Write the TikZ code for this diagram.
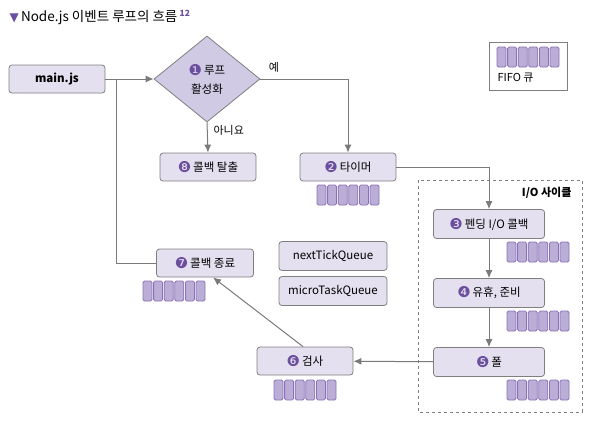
\documentclass[tikz,border=0pt]{standalone}
\usepackage{fontspec}
\setmainfont{Noto Sans CJK KR}
\newfontfamily\dingfont{DejaVu Sans}
\usetikzlibrary{shapes.geometric,arrows.meta}
\definecolor{boxfill}{HTML}{E4E0EF}
\definecolor{boxline}{HTML}{7F7F7F}
\definecolor{diafill}{HTML}{D0CAE4}
\definecolor{qfill}{HTML}{BBAED6}
\definecolor{qline}{HTML}{8A70B8}
\definecolor{numpurple}{HTML}{6B4E9E}
\definecolor{flow}{HTML}{7A7A7A}
\newcommand\numc[1]{\raisebox{-1pt}{\dingfont\color{numpurple}\fontsize{15}{15}\selectfont#1}\,}
\tikzset{
  box/.style={draw=boxline, fill=boxfill, rounded corners=3pt, line width=0.8pt,
    minimum width=96pt, minimum height=28pt, inner sep=2pt,
    font=\fontsize{11.5}{13}\selectfont},
  iobox/.style={box, minimum width=111pt, minimum height=29pt},
  flowline/.style={draw=flow, line width=1pt},
  qcell/.style={draw=qline, fill=qfill, line width=0.8pt, rounded corners=1.5pt}
}
\begin{document}
\begin{tikzpicture}[x=1pt, y=-1pt, >={Latex[length=8pt,width=7pt]}]
\useasboundingbox (0,0) rectangle (596,437);
\node[anchor=west, font=\fontsize{13.5}{15}\selectfont] (title) at (6,17)
  {{\dingfont\color{numpurple}\fontsize{12}{12}\selectfont ▼}\,Node.js 이벤트 루프의 흐름\,\raisebox{5pt}{\color{numpurple}\fontsize{8.5}{8}\selectfont\bfseries 12}};

\node[box, font=\fontsize{11.5}{13}\selectfont\bfseries] (main) at (57,79) {main.js};
\node[diamond, draw=boxline, fill=diafill, line width=0.8pt, minimum width=106pt,
  minimum height=86pt, inner sep=0pt, align=center, font=\fontsize{11.5}{19}\selectfont]
  (loop) at (207,79) {\numc{❶}루프\\활성화};
\node[box] (exit) at (208,167) {\numc{❽}콜백 탈출};
\node[box] (timer) at (348,167) {\numc{❷}타이머};
\node[iobox] (pend) at (489,224) {\numc{❸}펜딩 I/O 콜백};
\node[iobox] (idle) at (489,293) {\numc{❹}유휴, 준비};
\node[iobox] (poll) at (489,362) {\numc{❺}폴};
\node[box] (check) at (305,361) {\numc{❻}검사};
\node[box, minimum width=97pt] (close) at (205,263) {\numc{❼}콜백 종료};
\node[box, minimum width=108pt, minimum height=29pt] (ntq) at (333,256) {nextTickQueue};
\node[box, minimum width=108pt, minimum height=29pt] (mtq) at (333,291) {microTaskQueue};

% 범례
\node[draw=boxline, fill=white, line width=0.8pt, minimum width=78pt, minimum height=48pt] (legend) at (528,66) {};
\node[anchor=west, font=\fontsize{11}{12}\selectfont] (fifo) at (494,78) {FIFO 큐};

% I/O 사이클
\draw[boxline, dashed, line width=0.8pt] (418,180) rectangle (582,412);
\node[anchor=east, font=\fontsize{11}{12}\selectfont\bfseries] (io) at (575,193) {I/O 사이클};

\foreach \qx/\qy in {143/281, 317/185, 507/242, 507/311, 507/380, 274/380, 497/47}
{
  \foreach \i in {0,...,5}
    \draw[qcell] (\qx+\i*10.6,\qy) rectangle +(9,20);
}

\coordinate (j) at (116,79);
\draw[flowline, ->] (main) -- (loop);
\draw[flowline] (close.west) -| (j);
\draw[flowline, ->] (loop.east) -| (timer.north);
\node[font=\fontsize{11}{12}\selectfont] (yes) at (274,67) {예};
\draw[flowline, ->] (loop.south) -- (exit.north);
\node[anchor=west, font=\fontsize{11}{12}\selectfont] (no) at (210,130) {아니요};
\draw[flowline, ->] (timer.east) -| (pend.north);
\draw[flowline, ->] (pend) -- (idle);
\draw[flowline, ->] (idle) -- (poll);
\draw[flowline, ->] (poll) -- (check);
\draw[flowline, ->] ([xshift=-2pt]check.north) -- ([xshift=8pt]close.south);
\end{tikzpicture}
\end{document}
